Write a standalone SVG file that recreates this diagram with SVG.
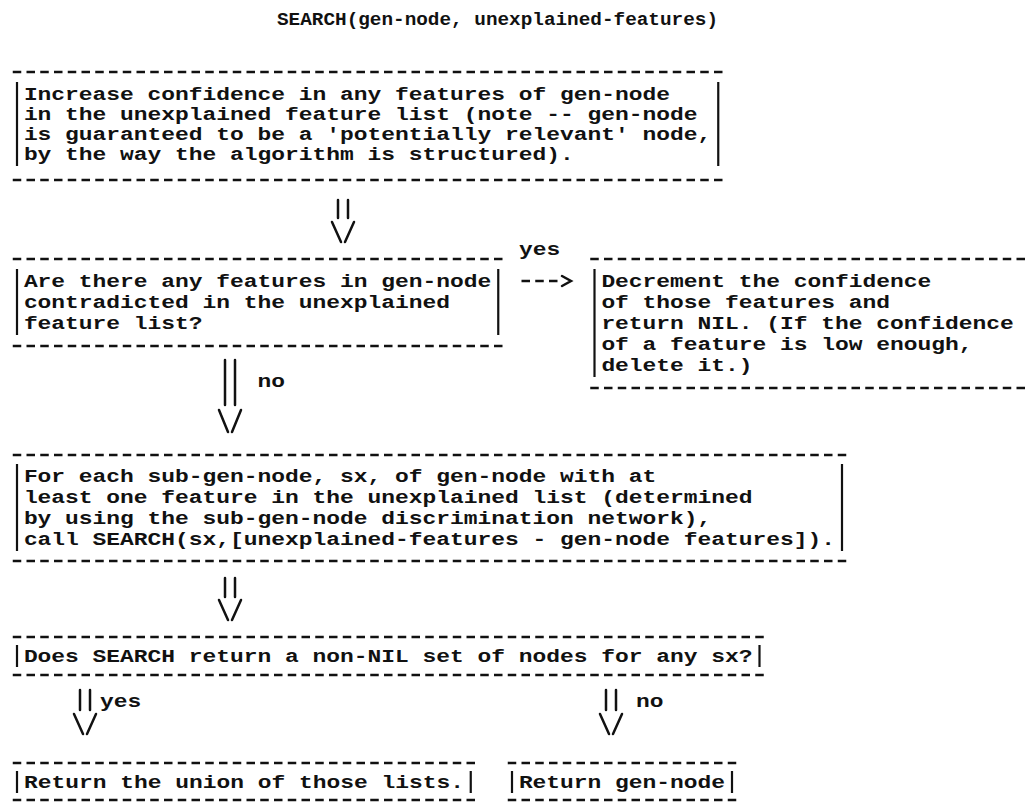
<svg xmlns="http://www.w3.org/2000/svg" width="1025" height="803" viewBox="0 0 1025 803">
<style>
.t{font-family:"Liberation Mono","DejaVu Sans Mono",monospace;font-weight:bold;font-size:19px;fill:#111}
.d{stroke:#111;stroke-width:2.6;stroke-dasharray:8.5 5.25;fill:none}
.b{stroke:#111;stroke-width:2.2;fill:none}
.c{stroke:#111;stroke-width:2.5;fill:none;stroke-linecap:round}
</style>
<rect width="1025" height="803" fill="#fff"/>
<text class="t" x="277" y="25" textLength="441" lengthAdjust="spacingAndGlyphs">SEARCH(gen-node, unexplained-features)</text>

<g id="n1">
<line class="d" x1="12.75" y1="72" x2="722.5" y2="72"/>
<line class="d" x1="12.75" y1="180" x2="722.5" y2="180"/>
<line class="b" x1="17" y1="82" x2="17" y2="166"/>
<line class="b" x1="718.25" y1="82" x2="718.25" y2="166"/>
<text class="t" x="23.875" y="100" textLength="646.25" lengthAdjust="spacingAndGlyphs">Increase confidence in any features of gen-node</text>
<text class="t" x="23.875" y="120" textLength="673.75" lengthAdjust="spacingAndGlyphs">in the unexplained feature list (note -- gen-node</text>
<text class="t" x="23.875" y="140" textLength="687.5" lengthAdjust="spacingAndGlyphs">is guaranteed to be a 'potentially relevant' node,</text>
<text class="t" x="23.875" y="160" textLength="550" lengthAdjust="spacingAndGlyphs">by the way the algorithm is structured).</text>
</g>

<g id="n2">
<line class="d" x1="12.75" y1="259" x2="502.5" y2="259"/>
<line class="d" x1="12.75" y1="346" x2="502.5" y2="346"/>
<line class="b" x1="17" y1="269" x2="17" y2="335"/>
<line class="b" x1="498.25" y1="269" x2="498.25" y2="335"/>
<text class="t" x="23.875" y="287" textLength="467.5" lengthAdjust="spacingAndGlyphs">Are there any features in gen-node</text>
<text class="t" x="23.875" y="308" textLength="426.25" lengthAdjust="spacingAndGlyphs">contradicted in the unexplained</text>
<text class="t" x="23.875" y="329" textLength="178.75" lengthAdjust="spacingAndGlyphs">feature list?</text>
</g>

<g id="n3">
<line class="d" x1="590.25" y1="259" x2="1025" y2="259"/>
<line class="d" x1="590.25" y1="388" x2="1025" y2="388"/>
<line class="b" x1="594.5" y1="269" x2="594.5" y2="377"/>
<text class="t" x="601.375" y="287" textLength="330" lengthAdjust="spacingAndGlyphs">Decrement the confidence</text>
<text class="t" x="601.375" y="308" textLength="288.75" lengthAdjust="spacingAndGlyphs">of those features and</text>
<text class="t" x="601.375" y="329" textLength="412.5" lengthAdjust="spacingAndGlyphs">return NIL. (If the confidence</text>
<text class="t" x="601.375" y="350" textLength="371.25" lengthAdjust="spacingAndGlyphs">of a feature is low enough,</text>
<text class="t" x="601.375" y="371" textLength="151.25" lengthAdjust="spacingAndGlyphs">delete it.)</text>
</g>

<g id="n4">
<line class="d" x1="12.75" y1="455" x2="846.25" y2="455"/>
<line class="d" x1="12.75" y1="561" x2="846.25" y2="561"/>
<line class="b" x1="17" y1="464" x2="17" y2="551"/>
<line class="b" x1="842" y1="464" x2="842" y2="551"/>
<text class="t" x="23.875" y="482" textLength="632.5" lengthAdjust="spacingAndGlyphs">For each sub-gen-node, sx, of gen-node with at</text>
<text class="t" x="23.875" y="503" textLength="728.75" lengthAdjust="spacingAndGlyphs">least one feature in the unexplained list (determined</text>
<text class="t" x="23.875" y="524" textLength="687.5" lengthAdjust="spacingAndGlyphs">by using the sub-gen-node discrimination network),</text>
<text class="t" x="23.875" y="545" textLength="811.25" lengthAdjust="spacingAndGlyphs">call SEARCH(sx,[unexplained-features - gen-node features]).</text>
</g>

<g id="n5">
<line class="d" x1="12.75" y1="637" x2="763.75" y2="637"/>
<line class="d" x1="12.75" y1="675" x2="763.75" y2="675"/>
<line class="b" x1="17" y1="645" x2="17" y2="667"/>
<line class="b" x1="759.5" y1="645" x2="759.5" y2="667"/>
<text class="t" x="23.875" y="662" textLength="728.75" lengthAdjust="spacingAndGlyphs">Does SEARCH return a non-NIL set of nodes for any sx?</text>
</g>

<g id="n6">
<line class="d" x1="12.75" y1="763" x2="475" y2="763"/>
<line class="d" x1="12.75" y1="800" x2="475" y2="800"/>
<line class="b" x1="17" y1="771" x2="17" y2="793"/>
<line class="b" x1="470.75" y1="771" x2="470.75" y2="793"/>
<text class="t" x="23.875" y="788" textLength="440" lengthAdjust="spacingAndGlyphs">Return the union of those lists.</text>
</g>

<g id="n7">
<line class="d" x1="507.75" y1="763" x2="736.25" y2="763"/>
<line class="d" x1="507.75" y1="800" x2="736.25" y2="800"/>
<line class="b" x1="512" y1="771" x2="512" y2="793"/>
<line class="b" x1="732" y1="771" x2="732" y2="793"/>
<text class="t" x="518.875" y="788" textLength="206.25" lengthAdjust="spacingAndGlyphs">Return gen-node</text>
</g>

<g id="connectors">
<g id="e1">
<path class="c" d="M338,200V218M348,200V218M332,222L341,242M345,242L354,222"/>
</g>
<g id="e2">
<line class="d" x1="521.5" y1="281" x2="557.5" y2="281"/>
<path class="c" d="M562,276L571,281L562,286"/>
<text class="t" x="518.9" y="255" textLength="41.25" lengthAdjust="spacingAndGlyphs">yes</text>
</g>
<g id="e3">
<path class="c" d="M225,360V405M235,360V405M219,410L228,432M232,432L241,410"/>
<text class="t" x="257.6" y="387" textLength="27.5" lengthAdjust="spacingAndGlyphs">no</text>
</g>
<g id="e4">
<path class="c" d="M225,578V597M235,578V597M219,600L228,620M232,620L241,600"/>
</g>
<g id="e5">
<path class="c" d="M80,690V710M90,690V710M74,714L83,734M87,734L96,714"/>
<text class="t" x="100" y="707" textLength="41.25" lengthAdjust="spacingAndGlyphs">yes</text>
</g>
<g id="e6">
<path class="c" d="M606,690V710M616,690V710M600,714L609,734M613,734L622,714"/>
<text class="t" x="636" y="707" textLength="27.5" lengthAdjust="spacingAndGlyphs">no</text>
</g>
</g>
</svg>
